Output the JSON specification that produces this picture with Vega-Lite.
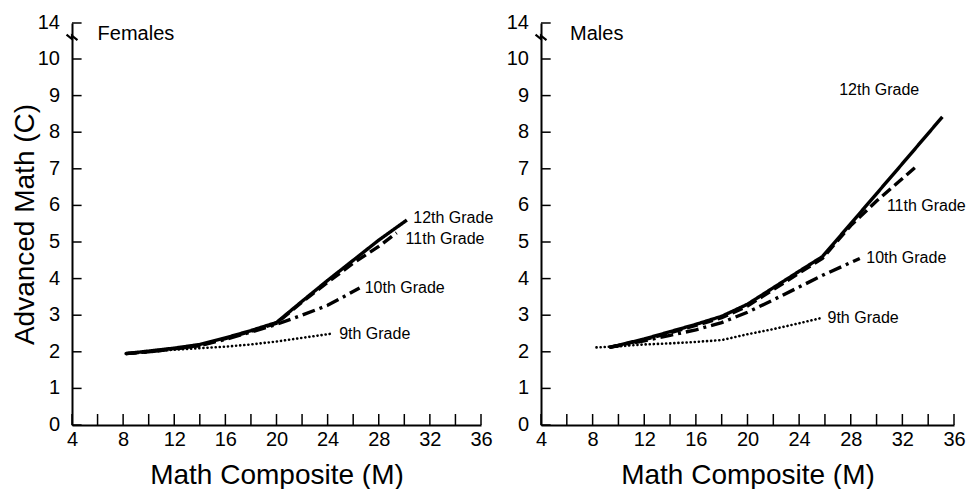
{
  "$schema": "https://vega.github.io/schema/vega-lite/v6.json",
  "background": "white",
  "padding": {"left": 11, "top": 13, "right": 0, "bottom": 0},
  "autosize": {"type": "pad"},
  "spacing": 12,
  "config": {
    "font": "Liberation Sans",
    "view": {"stroke": null},
    "axis": {
      "grid": false,
      "ticks": false,
      "domainColor": "black",
      "domainWidth": 2,
      "labelColor": "black",
      "labelFontSize": 20,
      "labelFlush": false,
      "titleFontSize": 28,
      "titleFontWeight": "normal",
      "titleColor": "black"
    }
  },
  "datasets": {
    "lines": [
      {"panel": "Females", "grade": "12th Grade", "M": 8.2, "C": 1.95},
      {"panel": "Females", "grade": "12th Grade", "M": 10, "C": 2.02},
      {"panel": "Females", "grade": "12th Grade", "M": 12, "C": 2.1},
      {"panel": "Females", "grade": "12th Grade", "M": 14, "C": 2.2},
      {"panel": "Females", "grade": "12th Grade", "M": 16, "C": 2.38},
      {"panel": "Females", "grade": "12th Grade", "M": 18, "C": 2.58},
      {"panel": "Females", "grade": "12th Grade", "M": 20, "C": 2.8},
      {"panel": "Females", "grade": "12th Grade", "M": 22, "C": 3.38},
      {"panel": "Females", "grade": "12th Grade", "M": 24, "C": 3.95},
      {"panel": "Females", "grade": "12th Grade", "M": 26, "C": 4.5},
      {"panel": "Females", "grade": "12th Grade", "M": 28, "C": 5.05},
      {"panel": "Females", "grade": "12th Grade", "M": 30.2, "C": 5.6},
      {"panel": "Females", "grade": "11th Grade", "M": 8.2, "C": 1.95},
      {"panel": "Females", "grade": "11th Grade", "M": 10, "C": 2.0},
      {"panel": "Females", "grade": "11th Grade", "M": 12, "C": 2.08},
      {"panel": "Females", "grade": "11th Grade", "M": 14, "C": 2.18},
      {"panel": "Females", "grade": "11th Grade", "M": 16, "C": 2.36},
      {"panel": "Females", "grade": "11th Grade", "M": 18, "C": 2.56},
      {"panel": "Females", "grade": "11th Grade", "M": 20, "C": 2.78},
      {"panel": "Females", "grade": "11th Grade", "M": 22, "C": 3.36},
      {"panel": "Females", "grade": "11th Grade", "M": 24, "C": 3.9},
      {"panel": "Females", "grade": "11th Grade", "M": 26, "C": 4.42},
      {"panel": "Females", "grade": "11th Grade", "M": 28, "C": 4.88},
      {"panel": "Females", "grade": "11th Grade", "M": 29.4, "C": 5.25},
      {"panel": "Females", "grade": "10th Grade", "M": 8.2, "C": 1.95},
      {"panel": "Females", "grade": "10th Grade", "M": 10, "C": 2.0},
      {"panel": "Females", "grade": "10th Grade", "M": 12, "C": 2.08},
      {"panel": "Females", "grade": "10th Grade", "M": 14, "C": 2.17},
      {"panel": "Females", "grade": "10th Grade", "M": 16, "C": 2.34},
      {"panel": "Females", "grade": "10th Grade", "M": 18, "C": 2.54},
      {"panel": "Females", "grade": "10th Grade", "M": 20, "C": 2.75},
      {"panel": "Females", "grade": "10th Grade", "M": 22, "C": 3.0},
      {"panel": "Females", "grade": "10th Grade", "M": 24, "C": 3.27},
      {"panel": "Females", "grade": "10th Grade", "M": 26.5, "C": 3.74},
      {"panel": "Females", "grade": "9th Grade", "M": 8.2, "C": 1.95},
      {"panel": "Females", "grade": "9th Grade", "M": 10, "C": 2.0},
      {"panel": "Females", "grade": "9th Grade", "M": 12, "C": 2.06},
      {"panel": "Females", "grade": "9th Grade", "M": 14, "C": 2.1},
      {"panel": "Females", "grade": "9th Grade", "M": 16, "C": 2.14},
      {"panel": "Females", "grade": "9th Grade", "M": 18, "C": 2.2},
      {"panel": "Females", "grade": "9th Grade", "M": 20, "C": 2.28},
      {"panel": "Females", "grade": "9th Grade", "M": 22, "C": 2.38},
      {"panel": "Females", "grade": "9th Grade", "M": 24.2, "C": 2.49},
      {"panel": "Males", "grade": "12th Grade", "M": 9.3, "C": 2.12},
      {"panel": "Males", "grade": "12th Grade", "M": 12, "C": 2.35},
      {"panel": "Males", "grade": "12th Grade", "M": 14, "C": 2.55},
      {"panel": "Males", "grade": "12th Grade", "M": 16, "C": 2.75},
      {"panel": "Males", "grade": "12th Grade", "M": 18, "C": 2.97},
      {"panel": "Males", "grade": "12th Grade", "M": 20, "C": 3.3},
      {"panel": "Males", "grade": "12th Grade", "M": 22, "C": 3.75},
      {"panel": "Males", "grade": "12th Grade", "M": 24, "C": 4.2},
      {"panel": "Males", "grade": "12th Grade", "M": 25.8, "C": 4.6},
      {"panel": "Males", "grade": "12th Grade", "M": 28, "C": 5.5},
      {"panel": "Males", "grade": "12th Grade", "M": 30, "C": 6.32},
      {"panel": "Males", "grade": "12th Grade", "M": 32, "C": 7.14},
      {"panel": "Males", "grade": "12th Grade", "M": 35.1, "C": 8.42},
      {"panel": "Males", "grade": "11th Grade", "M": 9.3, "C": 2.12},
      {"panel": "Males", "grade": "11th Grade", "M": 12, "C": 2.33},
      {"panel": "Males", "grade": "11th Grade", "M": 14, "C": 2.52},
      {"panel": "Males", "grade": "11th Grade", "M": 16, "C": 2.72},
      {"panel": "Males", "grade": "11th Grade", "M": 18, "C": 2.93},
      {"panel": "Males", "grade": "11th Grade", "M": 20, "C": 3.25},
      {"panel": "Males", "grade": "11th Grade", "M": 22, "C": 3.7},
      {"panel": "Males", "grade": "11th Grade", "M": 24, "C": 4.15},
      {"panel": "Males", "grade": "11th Grade", "M": 25.8, "C": 4.55},
      {"panel": "Males", "grade": "11th Grade", "M": 28, "C": 5.45},
      {"panel": "Males", "grade": "11th Grade", "M": 30, "C": 6.12},
      {"panel": "Males", "grade": "11th Grade", "M": 33.1, "C": 7.07},
      {"panel": "Males", "grade": "10th Grade", "M": 9.3, "C": 2.12},
      {"panel": "Males", "grade": "10th Grade", "M": 12, "C": 2.3},
      {"panel": "Males", "grade": "10th Grade", "M": 14, "C": 2.45},
      {"panel": "Males", "grade": "10th Grade", "M": 16, "C": 2.6},
      {"panel": "Males", "grade": "10th Grade", "M": 18, "C": 2.8},
      {"panel": "Males", "grade": "10th Grade", "M": 20, "C": 3.08},
      {"panel": "Males", "grade": "10th Grade", "M": 22, "C": 3.42},
      {"panel": "Males", "grade": "10th Grade", "M": 24, "C": 3.77},
      {"panel": "Males", "grade": "10th Grade", "M": 26, "C": 4.12},
      {"panel": "Males", "grade": "10th Grade", "M": 28.7, "C": 4.55},
      {"panel": "Males", "grade": "9th Grade", "M": 8.3, "C": 2.12},
      {"panel": "Males", "grade": "9th Grade", "M": 10, "C": 2.15},
      {"panel": "Males", "grade": "9th Grade", "M": 12, "C": 2.2},
      {"panel": "Males", "grade": "9th Grade", "M": 14, "C": 2.23},
      {"panel": "Males", "grade": "9th Grade", "M": 16, "C": 2.27},
      {"panel": "Males", "grade": "9th Grade", "M": 18, "C": 2.32},
      {"panel": "Males", "grade": "9th Grade", "M": 20, "C": 2.48},
      {"panel": "Males", "grade": "9th Grade", "M": 22, "C": 2.62},
      {"panel": "Males", "grade": "9th Grade", "M": 24, "C": 2.78},
      {"panel": "Males", "grade": "9th Grade", "M": 25.8, "C": 2.93}
    ],
    "labels": [
      {"panel": "Females", "text": "12th Grade", "M": 30.7, "C": 5.65},
      {"panel": "Females", "text": "11th Grade", "M": 30.1, "C": 5.07},
      {"panel": "Females", "text": "10th Grade", "M": 26.9, "C": 3.74},
      {"panel": "Females", "text": "9th Grade", "M": 24.9, "C": 2.49},
      {"panel": "Males", "text": "12th Grade", "M": 27.1, "C": 9.15},
      {"panel": "Males", "text": "11th Grade", "M": 30.8, "C": 5.97},
      {"panel": "Males", "text": "10th Grade", "M": 29.2, "C": 4.55},
      {"panel": "Males", "text": "9th Grade", "M": 26.2, "C": 2.93}
    ],
    "titles": [
      {"panel": "Females", "text": "Females", "M": 6.0, "C": 12.75},
      {"panel": "Males", "text": "Males", "M": 6.25, "C": 12.75}
    ],
    "breaks": [
      {"panel": "Females", "M": 4, "C": 12.4},
      {"panel": "Males", "M": 4, "C": 12.4}
    ],
    "xticks": [
      {"M": 4}, {"M": 6}, {"M": 8}, {"M": 10}, {"M": 12}, {"M": 14}, {"M": 16}, {"M": 18}, {"M": 20},
      {"M": 22}, {"M": 24}, {"M": 26}, {"M": 28}, {"M": 30}, {"M": 32}, {"M": 34}, {"M": 36}
    ],
    "yticks": [
      {"C": 0}, {"C": 1}, {"C": 2}, {"C": 3}, {"C": 4}, {"C": 5}, {"C": 6}, {"C": 7}, {"C": 8}, {"C": 9}, {"C": 10}, {"C": 14}
    ]
  },
  "hconcat": [
    {
      "width": 409,
      "height": 402,
      "layer": [
        {
          "data": {"name": "lines"},
          "transform": [{"filter": "datum.panel === 'Females' && datum.grade !== '9th Grade'"}],
          "mark": {"type": "line", "color": "black", "strokeWidth": 3.4},
          "encoding": {
            "x": {"field": "M", "type": "quantitative", "scale": {"domain": [4, 36], "nice": false, "zero": false},
                  "axis": {"title": "Math Composite (M)", "values": [4,8,12,16,20,24,28,32,36], "labelPadding": 4, "titlePadding": 12}},
            "y": {"field": "C", "type": "quantitative", "scale": {"domain": [0, 10, 14], "range": [402, 36, 0], "nice": false, "zero": false},
                  "axis": {"title": "Advanced Math (C)", "labels": false, "titlePadding": 33}},
            "strokeDash": {"field": "grade", "type": "nominal", "scale": {"domain": ["12th Grade", "11th Grade", "10th Grade"], "range": [[1, 0], [11, 5], [13, 5, 3, 5]]}, "legend": null}
          }
        },
        {
          "data": {"name": "lines"},
          "transform": [{"filter": "datum.panel === 'Females' && datum.grade === '9th Grade'"}],
          "mark": {"type": "line", "color": "black", "strokeWidth": 2.6, "strokeDash": [0.1, 4], "strokeCap": "round"},
          "encoding": {"x": {"field": "M", "type": "quantitative"}, "y": {"field": "C", "type": "quantitative"}}
        },
        {
          "data": {"name": "xticks"},
          "mark": {"type": "rule", "color": "black", "strokeWidth": 1.5},
          "encoding": {"x": {"field": "M", "type": "quantitative"}, "y": {"datum": 0}, "y2": {"datum": 0.3}}
        },
        {
          "data": {"name": "yticks"},
          "mark": {"type": "rule", "color": "black", "strokeWidth": 1.5},
          "encoding": {"y": {"field": "C", "type": "quantitative"}, "x": {"datum": 4}, "x2": {"datum": 4.75}}
        },
        {
          "data": {"name": "yticks"},
          "mark": {"type": "text", "align": "right", "baseline": "middle", "dx": -12, "fontSize": 20, "color": "black"},
          "encoding": {"y": {"field": "C", "type": "quantitative"}, "x": {"datum": 4}, "text": {"field": "C", "type": "quantitative"}}
        },
        {
          "data": {"name": "labels"},
          "transform": [{"filter": "datum.panel === 'Females'"}],
          "mark": {"type": "text", "align": "left", "baseline": "middle", "fontSize": 16, "color": "black"},
          "encoding": {"x": {"field": "M", "type": "quantitative"}, "y": {"field": "C", "type": "quantitative"}, "text": {"field": "text"}}
        },
        {
          "data": {"name": "titles"},
          "transform": [{"filter": "datum.panel === 'Females'"}],
          "mark": {"type": "text", "align": "left", "baseline": "middle", "fontSize": 20, "color": "black"},
          "encoding": {"x": {"field": "M", "type": "quantitative"}, "y": {"field": "C", "type": "quantitative"}, "text": {"field": "text"}}
        },
        {
          "data": {"name": "breaks"},
          "transform": [{"filter": "datum.panel === 'Females'"}],
          "mark": {"type": "point", "shape": "M-1,-0.5 L0,0.3 L0,-0.3 L1,0.5", "size": 120, "filled": false, "stroke": "black", "strokeWidth": 2.2, "opacity": 1},
          "encoding": {"x": {"field": "M", "type": "quantitative"}, "y": {"field": "C", "type": "quantitative"}}
        }
      ]
    },
    {
      "width": 413,
      "height": 402,
      "layer": [
        {
          "data": {"name": "lines"},
          "transform": [{"filter": "datum.panel === 'Males' && datum.grade !== '9th Grade'"}],
          "mark": {"type": "line", "color": "black", "strokeWidth": 3.4},
          "encoding": {
            "x": {"field": "M", "type": "quantitative", "scale": {"domain": [4, 36], "nice": false, "zero": false},
                  "axis": {"title": "Math Composite (M)", "values": [4,8,12,16,20,24,28,32,36], "labelPadding": 4, "titlePadding": 12}},
            "y": {"field": "C", "type": "quantitative", "scale": {"domain": [0, 10, 14], "range": [402, 36, 0], "nice": false, "zero": false},
                  "axis": {"title": null, "labels": false}},
            "strokeDash": {"field": "grade", "type": "nominal", "scale": {"domain": ["12th Grade", "11th Grade", "10th Grade"], "range": [[1, 0], [11, 5], [13, 5, 3, 5]]}, "legend": null}
          }
        },
        {
          "data": {"name": "lines"},
          "transform": [{"filter": "datum.panel === 'Males' && datum.grade === '9th Grade'"}],
          "mark": {"type": "line", "color": "black", "strokeWidth": 2.6, "strokeDash": [0.1, 4], "strokeCap": "round"},
          "encoding": {"x": {"field": "M", "type": "quantitative"}, "y": {"field": "C", "type": "quantitative"}}
        },
        {
          "data": {"name": "xticks"},
          "mark": {"type": "rule", "color": "black", "strokeWidth": 1.5},
          "encoding": {"x": {"field": "M", "type": "quantitative"}, "y": {"datum": 0}, "y2": {"datum": 0.3}}
        },
        {
          "data": {"name": "yticks"},
          "mark": {"type": "rule", "color": "black", "strokeWidth": 1.5},
          "encoding": {"y": {"field": "C", "type": "quantitative"}, "x": {"datum": 4}, "x2": {"datum": 4.75}}
        },
        {
          "data": {"name": "yticks"},
          "mark": {"type": "text", "align": "right", "baseline": "middle", "dx": -12, "fontSize": 20, "color": "black"},
          "encoding": {"y": {"field": "C", "type": "quantitative"}, "x": {"datum": 4}, "text": {"field": "C", "type": "quantitative"}}
        },
        {
          "data": {"name": "labels"},
          "transform": [{"filter": "datum.panel === 'Males'"}],
          "mark": {"type": "text", "align": "left", "baseline": "middle", "fontSize": 16, "color": "black"},
          "encoding": {"x": {"field": "M", "type": "quantitative"}, "y": {"field": "C", "type": "quantitative"}, "text": {"field": "text"}}
        },
        {
          "data": {"name": "titles"},
          "transform": [{"filter": "datum.panel === 'Males'"}],
          "mark": {"type": "text", "align": "left", "baseline": "middle", "fontSize": 20, "color": "black"},
          "encoding": {"x": {"field": "M", "type": "quantitative"}, "y": {"field": "C", "type": "quantitative"}, "text": {"field": "text"}}
        },
        {
          "data": {"name": "breaks"},
          "transform": [{"filter": "datum.panel === 'Males'"}],
          "mark": {"type": "point", "shape": "M-1,-0.5 L0,0.3 L0,-0.3 L1,0.5", "size": 120, "filled": false, "stroke": "black", "strokeWidth": 2.2, "opacity": 1},
          "encoding": {"x": {"field": "M", "type": "quantitative"}, "y": {"field": "C", "type": "quantitative"}}
        }
      ]
    }
  ]
}
